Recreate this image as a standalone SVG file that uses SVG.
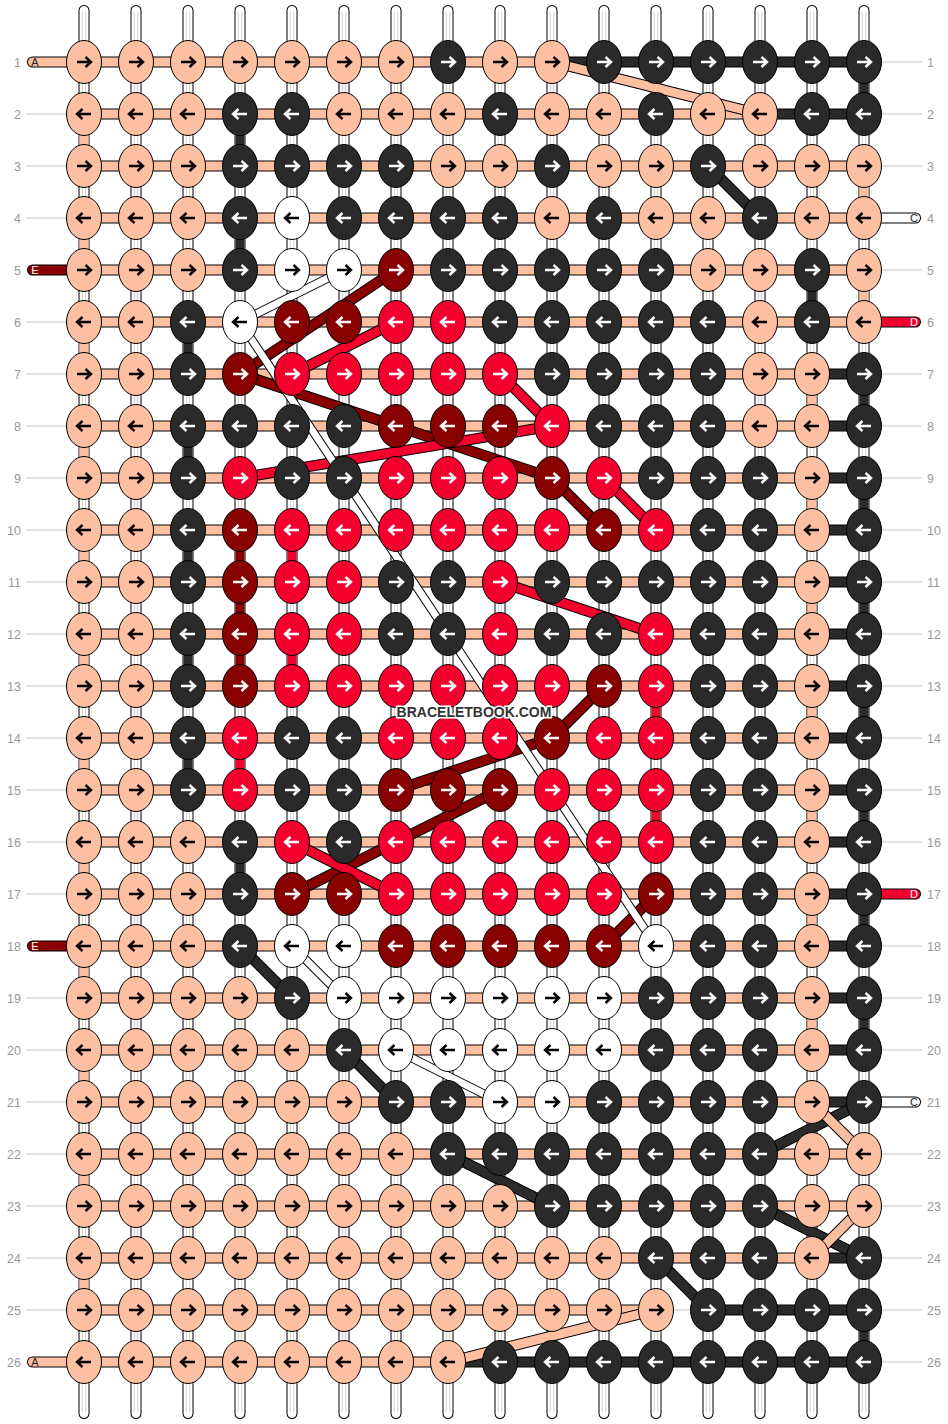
<svg xmlns="http://www.w3.org/2000/svg" xmlns:xlink="http://www.w3.org/1999/xlink" width="948" height="1424" viewBox="0 0 948 1424">
<style>
.gl{stroke:#c4c4c4;stroke-width:1;fill:none}
.so{stroke:#000;stroke-width:11;stroke-linecap:round;fill:none}
.si{stroke:#fff;stroke-width:9;stroke-linecap:round;fill:none}
.sg{stroke:#c8c8c8;stroke-width:0.8;fill:none}
.o{stroke:#000;stroke-width:11;fill:none}
.i{stroke-width:9;fill:none}
.wo{stroke:#000;stroke-width:9;fill:none}
.wi{stroke:#fff;stroke-width:7;fill:none}
.ro{stroke:#000;stroke-width:11;stroke-linecap:round;fill:none}
.ri{stroke-width:9;stroke-linecap:round;fill:none}
.cP{stroke:#FDBFA2}.cK{stroke:#2A2A2A}.cM{stroke:#880000}.cR{stroke:#F5002E}.cW{stroke:#fff}
.num{font-family:"Liberation Sans",Arial,sans-serif;font-size:12.5px;fill:#999}
.st{font-family:"Liberation Sans",Arial,sans-serif;font-size:11px;text-anchor:middle}
.wm{font-family:"Liberation Sans",Arial,sans-serif;font-size:14px;font-weight:bold;fill:#333;stroke:#fff;stroke-width:3;paint-order:stroke;text-anchor:middle}
</style>
<defs>
<path id="ar" d="M-7,0H6.5M1.5,-5L7,0L1.5,5" fill="none" stroke-width="2.4"/>
<path id="al" d="M7,0H-6.5M-1.5,-5L-7,0L-1.5,5" fill="none" stroke-width="2.4"/>
<g id="Pr"><ellipse rx="17.5" ry="21.5" fill="#FDBFA2" stroke="#000"/><use href="#ar" stroke="#000"/></g>
<g id="Pl"><ellipse rx="17.5" ry="21.5" fill="#FDBFA2" stroke="#000"/><use href="#al" stroke="#000"/></g>
<g id="Kr"><ellipse rx="17.5" ry="21.5" fill="#2A2A2A" stroke="#000"/><use href="#ar" stroke="#fff"/></g>
<g id="Kl"><ellipse rx="17.5" ry="21.5" fill="#2A2A2A" stroke="#000"/><use href="#al" stroke="#fff"/></g>
<g id="Wr"><ellipse rx="17.5" ry="21.5" fill="#fff" stroke="#000"/><use href="#ar" stroke="#000"/></g>
<g id="Wl"><ellipse rx="17.5" ry="21.5" fill="#fff" stroke="#000"/><use href="#al" stroke="#000"/></g>
<g id="Mr"><ellipse rx="17.5" ry="21.5" fill="#880000" stroke="#000"/><use href="#ar" stroke="#fff"/></g>
<g id="Ml"><ellipse rx="17.5" ry="21.5" fill="#880000" stroke="#000"/><use href="#al" stroke="#fff"/></g>
<g id="Rr"><ellipse rx="17.5" ry="21.5" fill="#F5002E" stroke="#000"/><use href="#ar" stroke="#fff"/></g>
<g id="Rl"><ellipse rx="17.5" ry="21.5" fill="#F5002E" stroke="#000"/><use href="#al" stroke="#fff"/></g>
</defs>
<rect width="948" height="1424" fill="#fff"/>
<g id="connectors">
<path class="gl" d="M26,62H922M26,114H922M26,166H922M26,218H922M26,270H922M26,322H922M26,374H922M26,426H922M26,478H922M26,530H922M26,582H922M26,634H922M26,686H922M26,738H922M26,790H922M26,842H922M26,894H922M26,946H922M26,998H922M26,1050H922M26,1102H922M26,1154H922M26,1206H922M26,1258H922M26,1310H922M26,1362H922"/>
<path class="so" d="M84,10.5V1413.5M136,10.5V1413.5M188,10.5V1413.5M240,10.5V1413.5M292,10.5V1413.5M344,10.5V1413.5M396,10.5V1413.5M448,10.5V1413.5M500,10.5V1413.5M552,10.5V1413.5M604,10.5V1413.5M656,10.5V1413.5M708,10.5V1413.5M760,10.5V1413.5M812,10.5V1413.5M864,10.5V1413.5"/>
<path class="si" d="M84,10.5V1413.5M136,10.5V1413.5M188,10.5V1413.5M240,10.5V1413.5M292,10.5V1413.5M344,10.5V1413.5M396,10.5V1413.5M448,10.5V1413.5M500,10.5V1413.5M552,10.5V1413.5M604,10.5V1413.5M656,10.5V1413.5M708,10.5V1413.5M760,10.5V1413.5M812,10.5V1413.5M864,10.5V1413.5"/>
<path class="sg" d="M82.3,12V1412M85.7,12V1412M134.3,12V1412M137.7,12V1412M186.3,12V1412M189.7,12V1412M238.3,12V1412M241.7,12V1412M290.3,12V1412M293.7,12V1412M342.3,12V1412M345.7,12V1412M394.3,12V1412M397.7,12V1412M446.3,12V1412M449.7,12V1412M498.3,12V1412M501.7,12V1412M550.3,12V1412M553.7,12V1412M602.3,12V1412M605.7,12V1412M654.3,12V1412M657.7,12V1412M706.3,12V1412M709.7,12V1412M758.3,12V1412M761.7,12V1412M810.3,12V1412M813.7,12V1412M862.3,12V1412M865.7,12V1412"/>
<path class="i cP" d="M84,114V166M84,218V270M84,322V374M84,426V478M84,530V582M84,634V686M84,738V790M84,842V894M84,946V998M84,1050V1102M84,1154V1206M84,1258V1310M812,374V426M812,478V530M812,582V634M812,686V738M812,790V842M812,894V946M812,998V1050M864,166V218M864,270V322"/>
<path class="i cK" d="M188,322V374M188,426V478M188,530V582M188,634V686M188,738V790M240,114V166M240,218V270M240,842V894M812,270V322M864,62V114M864,374V426M864,478V530M864,582V634M864,686V738M864,790V842M864,894V946M864,998V1050M864,1310V1362"/>
<path class="i cM" d="M240,530V686"/>
<path class="i cR" d="M240,738V790M292,530V582M292,634V686M656,686V738M656,790V842"/>
<path class="o" d="M84,62H864M84,114H864M84,166H864M84,218H864M84,270H864M84,322H864M84,374H864M84,426H864M84,478H864M84,530H864M84,582H864M84,634H864M84,686H864M84,738H864M84,790H864M84,842H864M84,894H864M84,946H864M84,998H864M84,1050H864M84,1102H864M84,1154H864M84,1206H864M84,1258H864M84,1310H656M708,1310H864M84,1362H864"/>
<path class="i cP" d="M84,62H552M84,114H760M84,166H864M84,218H864M84,270H864M84,322H864M84,374H812M84,426H812M84,478H812M84,530H812M84,582H812M84,634H812M84,686H812M84,738H812M84,790H812M84,842H812M84,894H812M84,946H812M84,998H812M84,1050H812M84,1102H812M84,1154H864M84,1206H864M84,1258H812M84,1310H656M84,1362H448"/>
<path class="i cK" d="M552,62H864M760,114H864M812,374H864M812,426H864M812,478H864M812,530H864M812,582H864M812,634H864M812,686H864M812,738H864M812,790H864M812,842H864M812,894H864M812,946H864M812,998H864M812,1050H864M812,1102H864M812,1258H864M708,1310H864M448,1362H864"/>
<path class="ro" d="M32.5,62H84M32.5,1362H84M32.5,270H84M32.5,946H84M864,218H915.5M864,1102H915.5M864,322H915.5M864,894H915.5"/>
<path class="ri cP" d="M32.5,62H84M32.5,1362H84"/>
<path class="ri cM" d="M32.5,270H84M32.5,946H84"/>
<path class="ri cW" d="M864,218H915.5M864,1102H915.5"/>
<path class="ri cR" d="M864,322H915.5M864,894H915.5"/>
<path class="o" d="M552,62L760,114"/><path class="i cP" d="M552,62L760,114"/>
<path class="o" d="M708,166L760,218"/><path class="i cK" d="M708,166L760,218"/>
<path class="o" d="M396,270L240,374"/><path class="i cM" d="M396,270L240,374"/>
<path class="o" d="M396,322L292,374"/><path class="i cR" d="M396,322L292,374"/>
<path class="o" d="M240,374L552,478"/><path class="i cM" d="M240,374L552,478"/>
<path class="o" d="M240,478L552,426"/><path class="i cR" d="M240,478L552,426"/>
<path class="o" d="M500,374L552,426"/><path class="i cR" d="M500,374L552,426"/>
<path class="o" d="M552,478L604,530"/><path class="i cM" d="M552,478L604,530"/>
<path class="o" d="M604,478L656,530"/><path class="i cR" d="M604,478L656,530"/>
<path class="o" d="M500,582L656,634"/><path class="i cR" d="M500,582L656,634"/>
<path class="o" d="M604,686L552,738"/><path class="i cM" d="M604,686L552,738"/>
<path class="o" d="M552,738L396,790"/><path class="i cM" d="M552,738L396,790"/>
<path class="o" d="M500,790L292,894"/><path class="i cM" d="M500,790L292,894"/>
<path class="o" d="M292,842L396,894"/><path class="i cR" d="M292,842L396,894"/>
<path class="o" d="M604,946L656,894"/><path class="i cM" d="M604,946L656,894"/>
<path class="o" d="M240,946L292,998"/><path class="i cK" d="M240,946L292,998"/>
<path class="o" d="M344,1050L396,1102"/><path class="i cK" d="M344,1050L396,1102"/>
<path class="o" d="M448,1154L552,1206"/><path class="i cK" d="M448,1154L552,1206"/>
<path class="o" d="M760,1154L864,1102"/><path class="i cK" d="M760,1154L864,1102"/>
<path class="o" d="M812,1102L864,1154"/><path class="i cP" d="M812,1102L864,1154"/>
<path class="o" d="M760,1206L864,1258"/><path class="i cK" d="M760,1206L864,1258"/>
<path class="o" d="M864,1206L812,1258"/><path class="i cP" d="M864,1206L812,1258"/>
<path class="o" d="M656,1258L708,1310"/><path class="i cK" d="M656,1258L708,1310"/>
<path class="o" d="M656,1310L448,1362"/><path class="i cP" d="M656,1310L448,1362"/>
<path class="wo" d="M344,270L240,322"/><path class="wi" d="M344,270L240,322"/>
<path class="wo" d="M240,322L656,946"/><path class="wi" d="M240,322L656,946"/>
<path class="wo" d="M292,946L344,998"/><path class="wi" d="M292,946L344,998"/>
<path class="wo" d="M396,1050L500,1102"/><path class="wi" d="M396,1050L500,1102"/>
</g>
<g id="knots">
<g transform="translate(0,62)"><g id="k1-1"><use href="#Pr" x="84"/></g><g id="k1-2"><use href="#Pr" x="136"/></g><g id="k1-3"><use href="#Pr" x="188"/></g><g id="k1-4"><use href="#Pr" x="240"/></g><g id="k1-5"><use href="#Pr" x="292"/></g><g id="k1-6"><use href="#Pr" x="344"/></g><g id="k1-7"><use href="#Pr" x="396"/></g><g id="k1-8"><use href="#Kr" x="448"/></g><g id="k1-9"><use href="#Pr" x="500"/></g><g id="k1-10"><use href="#Pr" x="552"/></g><g id="k1-11"><use href="#Kr" x="604"/></g><g id="k1-12"><use href="#Kr" x="656"/></g><g id="k1-13"><use href="#Kr" x="708"/></g><g id="k1-14"><use href="#Kr" x="760"/></g><g id="k1-15"><use href="#Kr" x="812"/></g><g id="k1-16"><use href="#Kr" x="864"/></g></g>
<g transform="translate(0,114)"><g id="k2-1"><use href="#Pl" x="84"/></g><g id="k2-2"><use href="#Pl" x="136"/></g><g id="k2-3"><use href="#Pl" x="188"/></g><g id="k2-4"><use href="#Kl" x="240"/></g><g id="k2-5"><use href="#Kl" x="292"/></g><g id="k2-6"><use href="#Pl" x="344"/></g><g id="k2-7"><use href="#Pl" x="396"/></g><g id="k2-8"><use href="#Pl" x="448"/></g><g id="k2-9"><use href="#Kl" x="500"/></g><g id="k2-10"><use href="#Pl" x="552"/></g><g id="k2-11"><use href="#Pl" x="604"/></g><g id="k2-12"><use href="#Kl" x="656"/></g><g id="k2-13"><use href="#Pl" x="708"/></g><g id="k2-14"><use href="#Pl" x="760"/></g><g id="k2-15"><use href="#Kl" x="812"/></g><g id="k2-16"><use href="#Kl" x="864"/></g></g>
<g transform="translate(0,166)"><g id="k3-1"><use href="#Pr" x="84"/></g><g id="k3-2"><use href="#Pr" x="136"/></g><g id="k3-3"><use href="#Pr" x="188"/></g><g id="k3-4"><use href="#Kr" x="240"/></g><g id="k3-5"><use href="#Kr" x="292"/></g><g id="k3-6"><use href="#Kr" x="344"/></g><g id="k3-7"><use href="#Kr" x="396"/></g><g id="k3-8"><use href="#Pr" x="448"/></g><g id="k3-9"><use href="#Pr" x="500"/></g><g id="k3-10"><use href="#Kr" x="552"/></g><g id="k3-11"><use href="#Pr" x="604"/></g><g id="k3-12"><use href="#Pr" x="656"/></g><g id="k3-13"><use href="#Kr" x="708"/></g><g id="k3-14"><use href="#Pr" x="760"/></g><g id="k3-15"><use href="#Pr" x="812"/></g><g id="k3-16"><use href="#Pr" x="864"/></g></g>
<g transform="translate(0,218)"><g id="k4-1"><use href="#Pl" x="84"/></g><g id="k4-2"><use href="#Pl" x="136"/></g><g id="k4-3"><use href="#Pl" x="188"/></g><g id="k4-4"><use href="#Kl" x="240"/></g><g id="k4-5"><use href="#Wl" x="292"/></g><g id="k4-6"><use href="#Kl" x="344"/></g><g id="k4-7"><use href="#Kl" x="396"/></g><g id="k4-8"><use href="#Kl" x="448"/></g><g id="k4-9"><use href="#Kl" x="500"/></g><g id="k4-10"><use href="#Pl" x="552"/></g><g id="k4-11"><use href="#Kl" x="604"/></g><g id="k4-12"><use href="#Pl" x="656"/></g><g id="k4-13"><use href="#Pl" x="708"/></g><g id="k4-14"><use href="#Kl" x="760"/></g><g id="k4-15"><use href="#Pl" x="812"/></g><g id="k4-16"><use href="#Pl" x="864"/></g></g>
<g transform="translate(0,270)"><g id="k5-1"><use href="#Pr" x="84"/></g><g id="k5-2"><use href="#Pr" x="136"/></g><g id="k5-3"><use href="#Pr" x="188"/></g><g id="k5-4"><use href="#Kr" x="240"/></g><g id="k5-5"><use href="#Wr" x="292"/></g><g id="k5-6"><use href="#Wr" x="344"/></g><g id="k5-7"><use href="#Mr" x="396"/></g><g id="k5-8"><use href="#Kr" x="448"/></g><g id="k5-9"><use href="#Kr" x="500"/></g><g id="k5-10"><use href="#Kr" x="552"/></g><g id="k5-11"><use href="#Kr" x="604"/></g><g id="k5-12"><use href="#Kr" x="656"/></g><g id="k5-13"><use href="#Pr" x="708"/></g><g id="k5-14"><use href="#Pr" x="760"/></g><g id="k5-15"><use href="#Kr" x="812"/></g><g id="k5-16"><use href="#Pr" x="864"/></g></g>
<g transform="translate(0,322)"><g id="k6-1"><use href="#Pl" x="84"/></g><g id="k6-2"><use href="#Pl" x="136"/></g><g id="k6-3"><use href="#Kl" x="188"/></g><g id="k6-4"><use href="#Wl" x="240"/></g><g id="k6-5"><use href="#Ml" x="292"/></g><g id="k6-6"><use href="#Ml" x="344"/></g><g id="k6-7"><use href="#Rl" x="396"/></g><g id="k6-8"><use href="#Rl" x="448"/></g><g id="k6-9"><use href="#Kl" x="500"/></g><g id="k6-10"><use href="#Kl" x="552"/></g><g id="k6-11"><use href="#Kl" x="604"/></g><g id="k6-12"><use href="#Kl" x="656"/></g><g id="k6-13"><use href="#Kl" x="708"/></g><g id="k6-14"><use href="#Pl" x="760"/></g><g id="k6-15"><use href="#Kl" x="812"/></g><g id="k6-16"><use href="#Pl" x="864"/></g></g>
<g transform="translate(0,374)"><g id="k7-1"><use href="#Pr" x="84"/></g><g id="k7-2"><use href="#Pr" x="136"/></g><g id="k7-3"><use href="#Kr" x="188"/></g><g id="k7-4"><use href="#Mr" x="240"/></g><g id="k7-5"><use href="#Rr" x="292"/></g><g id="k7-6"><use href="#Rr" x="344"/></g><g id="k7-7"><use href="#Rr" x="396"/></g><g id="k7-8"><use href="#Rr" x="448"/></g><g id="k7-9"><use href="#Rr" x="500"/></g><g id="k7-10"><use href="#Kr" x="552"/></g><g id="k7-11"><use href="#Kr" x="604"/></g><g id="k7-12"><use href="#Kr" x="656"/></g><g id="k7-13"><use href="#Kr" x="708"/></g><g id="k7-14"><use href="#Pr" x="760"/></g><g id="k7-15"><use href="#Pr" x="812"/></g><g id="k7-16"><use href="#Kr" x="864"/></g></g>
<g transform="translate(0,426)"><g id="k8-1"><use href="#Pl" x="84"/></g><g id="k8-2"><use href="#Pl" x="136"/></g><g id="k8-3"><use href="#Kl" x="188"/></g><g id="k8-4"><use href="#Kl" x="240"/></g><g id="k8-5"><use href="#Kl" x="292"/></g><g id="k8-6"><use href="#Kl" x="344"/></g><g id="k8-7"><use href="#Ml" x="396"/></g><g id="k8-8"><use href="#Ml" x="448"/></g><g id="k8-9"><use href="#Ml" x="500"/></g><g id="k8-10"><use href="#Rl" x="552"/></g><g id="k8-11"><use href="#Kl" x="604"/></g><g id="k8-12"><use href="#Kl" x="656"/></g><g id="k8-13"><use href="#Kl" x="708"/></g><g id="k8-14"><use href="#Pl" x="760"/></g><g id="k8-15"><use href="#Pl" x="812"/></g><g id="k8-16"><use href="#Kl" x="864"/></g></g>
<g transform="translate(0,478)"><g id="k9-1"><use href="#Pr" x="84"/></g><g id="k9-2"><use href="#Pr" x="136"/></g><g id="k9-3"><use href="#Kr" x="188"/></g><g id="k9-4"><use href="#Rr" x="240"/></g><g id="k9-5"><use href="#Kr" x="292"/></g><g id="k9-6"><use href="#Kr" x="344"/></g><g id="k9-7"><use href="#Rr" x="396"/></g><g id="k9-8"><use href="#Rr" x="448"/></g><g id="k9-9"><use href="#Rr" x="500"/></g><g id="k9-10"><use href="#Mr" x="552"/></g><g id="k9-11"><use href="#Rr" x="604"/></g><g id="k9-12"><use href="#Kr" x="656"/></g><g id="k9-13"><use href="#Kr" x="708"/></g><g id="k9-14"><use href="#Kr" x="760"/></g><g id="k9-15"><use href="#Pr" x="812"/></g><g id="k9-16"><use href="#Kr" x="864"/></g></g>
<g transform="translate(0,530)"><g id="k10-1"><use href="#Pl" x="84"/></g><g id="k10-2"><use href="#Pl" x="136"/></g><g id="k10-3"><use href="#Kl" x="188"/></g><g id="k10-4"><use href="#Ml" x="240"/></g><g id="k10-5"><use href="#Rl" x="292"/></g><g id="k10-6"><use href="#Rl" x="344"/></g><g id="k10-7"><use href="#Rl" x="396"/></g><g id="k10-8"><use href="#Rl" x="448"/></g><g id="k10-9"><use href="#Rl" x="500"/></g><g id="k10-10"><use href="#Rl" x="552"/></g><g id="k10-11"><use href="#Ml" x="604"/></g><g id="k10-12"><use href="#Rl" x="656"/></g><g id="k10-13"><use href="#Kl" x="708"/></g><g id="k10-14"><use href="#Kl" x="760"/></g><g id="k10-15"><use href="#Pl" x="812"/></g><g id="k10-16"><use href="#Kl" x="864"/></g></g>
<g transform="translate(0,582)"><g id="k11-1"><use href="#Pr" x="84"/></g><g id="k11-2"><use href="#Pr" x="136"/></g><g id="k11-3"><use href="#Kr" x="188"/></g><g id="k11-4"><use href="#Mr" x="240"/></g><g id="k11-5"><use href="#Rr" x="292"/></g><g id="k11-6"><use href="#Rr" x="344"/></g><g id="k11-7"><use href="#Kr" x="396"/></g><g id="k11-8"><use href="#Kr" x="448"/></g><g id="k11-9"><use href="#Rr" x="500"/></g><g id="k11-10"><use href="#Kr" x="552"/></g><g id="k11-11"><use href="#Kr" x="604"/></g><g id="k11-12"><use href="#Kr" x="656"/></g><g id="k11-13"><use href="#Kr" x="708"/></g><g id="k11-14"><use href="#Kr" x="760"/></g><g id="k11-15"><use href="#Pr" x="812"/></g><g id="k11-16"><use href="#Kr" x="864"/></g></g>
<g transform="translate(0,634)"><g id="k12-1"><use href="#Pl" x="84"/></g><g id="k12-2"><use href="#Pl" x="136"/></g><g id="k12-3"><use href="#Kl" x="188"/></g><g id="k12-4"><use href="#Ml" x="240"/></g><g id="k12-5"><use href="#Rl" x="292"/></g><g id="k12-6"><use href="#Rl" x="344"/></g><g id="k12-7"><use href="#Kl" x="396"/></g><g id="k12-8"><use href="#Kl" x="448"/></g><g id="k12-9"><use href="#Rl" x="500"/></g><g id="k12-10"><use href="#Kl" x="552"/></g><g id="k12-11"><use href="#Kl" x="604"/></g><g id="k12-12"><use href="#Rl" x="656"/></g><g id="k12-13"><use href="#Kl" x="708"/></g><g id="k12-14"><use href="#Kl" x="760"/></g><g id="k12-15"><use href="#Pl" x="812"/></g><g id="k12-16"><use href="#Kl" x="864"/></g></g>
<g transform="translate(0,686)"><g id="k13-1"><use href="#Pr" x="84"/></g><g id="k13-2"><use href="#Pr" x="136"/></g><g id="k13-3"><use href="#Kr" x="188"/></g><g id="k13-4"><use href="#Mr" x="240"/></g><g id="k13-5"><use href="#Rr" x="292"/></g><g id="k13-6"><use href="#Rr" x="344"/></g><g id="k13-7"><use href="#Rr" x="396"/></g><g id="k13-8"><use href="#Rr" x="448"/></g><g id="k13-9"><use href="#Rr" x="500"/></g><g id="k13-10"><use href="#Rr" x="552"/></g><g id="k13-11"><use href="#Mr" x="604"/></g><g id="k13-12"><use href="#Rr" x="656"/></g><g id="k13-13"><use href="#Kr" x="708"/></g><g id="k13-14"><use href="#Kr" x="760"/></g><g id="k13-15"><use href="#Pr" x="812"/></g><g id="k13-16"><use href="#Kr" x="864"/></g></g>
<g transform="translate(0,738)"><g id="k14-1"><use href="#Pl" x="84"/></g><g id="k14-2"><use href="#Pl" x="136"/></g><g id="k14-3"><use href="#Kl" x="188"/></g><g id="k14-4"><use href="#Rl" x="240"/></g><g id="k14-5"><use href="#Kl" x="292"/></g><g id="k14-6"><use href="#Kl" x="344"/></g><g id="k14-7"><use href="#Rl" x="396"/></g><g id="k14-8"><use href="#Rl" x="448"/></g><g id="k14-9"><use href="#Rl" x="500"/></g><g id="k14-10"><use href="#Ml" x="552"/></g><g id="k14-11"><use href="#Rl" x="604"/></g><g id="k14-12"><use href="#Rl" x="656"/></g><g id="k14-13"><use href="#Kl" x="708"/></g><g id="k14-14"><use href="#Kl" x="760"/></g><g id="k14-15"><use href="#Pl" x="812"/></g><g id="k14-16"><use href="#Kl" x="864"/></g></g>
<g transform="translate(0,790)"><g id="k15-1"><use href="#Pr" x="84"/></g><g id="k15-2"><use href="#Pr" x="136"/></g><g id="k15-3"><use href="#Kr" x="188"/></g><g id="k15-4"><use href="#Rr" x="240"/></g><g id="k15-5"><use href="#Kr" x="292"/></g><g id="k15-6"><use href="#Kr" x="344"/></g><g id="k15-7"><use href="#Mr" x="396"/></g><g id="k15-8"><use href="#Mr" x="448"/></g><g id="k15-9"><use href="#Mr" x="500"/></g><g id="k15-10"><use href="#Rr" x="552"/></g><g id="k15-11"><use href="#Rr" x="604"/></g><g id="k15-12"><use href="#Rr" x="656"/></g><g id="k15-13"><use href="#Kr" x="708"/></g><g id="k15-14"><use href="#Kr" x="760"/></g><g id="k15-15"><use href="#Pr" x="812"/></g><g id="k15-16"><use href="#Kr" x="864"/></g></g>
<g transform="translate(0,842)"><g id="k16-1"><use href="#Pl" x="84"/></g><g id="k16-2"><use href="#Pl" x="136"/></g><g id="k16-3"><use href="#Pl" x="188"/></g><g id="k16-4"><use href="#Kl" x="240"/></g><g id="k16-5"><use href="#Rl" x="292"/></g><g id="k16-6"><use href="#Kl" x="344"/></g><g id="k16-7"><use href="#Rl" x="396"/></g><g id="k16-8"><use href="#Rl" x="448"/></g><g id="k16-9"><use href="#Rl" x="500"/></g><g id="k16-10"><use href="#Rl" x="552"/></g><g id="k16-11"><use href="#Rl" x="604"/></g><g id="k16-12"><use href="#Rl" x="656"/></g><g id="k16-13"><use href="#Kl" x="708"/></g><g id="k16-14"><use href="#Kl" x="760"/></g><g id="k16-15"><use href="#Pl" x="812"/></g><g id="k16-16"><use href="#Kl" x="864"/></g></g>
<g transform="translate(0,894)"><g id="k17-1"><use href="#Pr" x="84"/></g><g id="k17-2"><use href="#Pr" x="136"/></g><g id="k17-3"><use href="#Pr" x="188"/></g><g id="k17-4"><use href="#Kr" x="240"/></g><g id="k17-5"><use href="#Mr" x="292"/></g><g id="k17-6"><use href="#Mr" x="344"/></g><g id="k17-7"><use href="#Rr" x="396"/></g><g id="k17-8"><use href="#Rr" x="448"/></g><g id="k17-9"><use href="#Rr" x="500"/></g><g id="k17-10"><use href="#Rr" x="552"/></g><g id="k17-11"><use href="#Rr" x="604"/></g><g id="k17-12"><use href="#Mr" x="656"/></g><g id="k17-13"><use href="#Kr" x="708"/></g><g id="k17-14"><use href="#Kr" x="760"/></g><g id="k17-15"><use href="#Pr" x="812"/></g><g id="k17-16"><use href="#Kr" x="864"/></g></g>
<g transform="translate(0,946)"><g id="k18-1"><use href="#Pl" x="84"/></g><g id="k18-2"><use href="#Pl" x="136"/></g><g id="k18-3"><use href="#Pl" x="188"/></g><g id="k18-4"><use href="#Kl" x="240"/></g><g id="k18-5"><use href="#Wl" x="292"/></g><g id="k18-6"><use href="#Wl" x="344"/></g><g id="k18-7"><use href="#Ml" x="396"/></g><g id="k18-8"><use href="#Ml" x="448"/></g><g id="k18-9"><use href="#Ml" x="500"/></g><g id="k18-10"><use href="#Ml" x="552"/></g><g id="k18-11"><use href="#Ml" x="604"/></g><g id="k18-12"><use href="#Wl" x="656"/></g><g id="k18-13"><use href="#Kl" x="708"/></g><g id="k18-14"><use href="#Kl" x="760"/></g><g id="k18-15"><use href="#Pl" x="812"/></g><g id="k18-16"><use href="#Kl" x="864"/></g></g>
<g transform="translate(0,998)"><g id="k19-1"><use href="#Pr" x="84"/></g><g id="k19-2"><use href="#Pr" x="136"/></g><g id="k19-3"><use href="#Pr" x="188"/></g><g id="k19-4"><use href="#Pr" x="240"/></g><g id="k19-5"><use href="#Kr" x="292"/></g><g id="k19-6"><use href="#Wr" x="344"/></g><g id="k19-7"><use href="#Wr" x="396"/></g><g id="k19-8"><use href="#Wr" x="448"/></g><g id="k19-9"><use href="#Wr" x="500"/></g><g id="k19-10"><use href="#Wr" x="552"/></g><g id="k19-11"><use href="#Wr" x="604"/></g><g id="k19-12"><use href="#Kr" x="656"/></g><g id="k19-13"><use href="#Kr" x="708"/></g><g id="k19-14"><use href="#Kr" x="760"/></g><g id="k19-15"><use href="#Pr" x="812"/></g><g id="k19-16"><use href="#Kr" x="864"/></g></g>
<g transform="translate(0,1050)"><g id="k20-1"><use href="#Pl" x="84"/></g><g id="k20-2"><use href="#Pl" x="136"/></g><g id="k20-3"><use href="#Pl" x="188"/></g><g id="k20-4"><use href="#Pl" x="240"/></g><g id="k20-5"><use href="#Pl" x="292"/></g><g id="k20-6"><use href="#Kl" x="344"/></g><g id="k20-7"><use href="#Wl" x="396"/></g><g id="k20-8"><use href="#Wl" x="448"/></g><g id="k20-9"><use href="#Wl" x="500"/></g><g id="k20-10"><use href="#Wl" x="552"/></g><g id="k20-11"><use href="#Wl" x="604"/></g><g id="k20-12"><use href="#Kl" x="656"/></g><g id="k20-13"><use href="#Kl" x="708"/></g><g id="k20-14"><use href="#Kl" x="760"/></g><g id="k20-15"><use href="#Pl" x="812"/></g><g id="k20-16"><use href="#Kl" x="864"/></g></g>
<g transform="translate(0,1102)"><g id="k21-1"><use href="#Pr" x="84"/></g><g id="k21-2"><use href="#Pr" x="136"/></g><g id="k21-3"><use href="#Pr" x="188"/></g><g id="k21-4"><use href="#Pr" x="240"/></g><g id="k21-5"><use href="#Pr" x="292"/></g><g id="k21-6"><use href="#Pr" x="344"/></g><g id="k21-7"><use href="#Kr" x="396"/></g><g id="k21-8"><use href="#Kr" x="448"/></g><g id="k21-9"><use href="#Wr" x="500"/></g><g id="k21-10"><use href="#Wr" x="552"/></g><g id="k21-11"><use href="#Kr" x="604"/></g><g id="k21-12"><use href="#Kr" x="656"/></g><g id="k21-13"><use href="#Kr" x="708"/></g><g id="k21-14"><use href="#Kr" x="760"/></g><g id="k21-15"><use href="#Pr" x="812"/></g><g id="k21-16"><use href="#Kr" x="864"/></g></g>
<g transform="translate(0,1154)"><g id="k22-1"><use href="#Pl" x="84"/></g><g id="k22-2"><use href="#Pl" x="136"/></g><g id="k22-3"><use href="#Pl" x="188"/></g><g id="k22-4"><use href="#Pl" x="240"/></g><g id="k22-5"><use href="#Pl" x="292"/></g><g id="k22-6"><use href="#Pl" x="344"/></g><g id="k22-7"><use href="#Pl" x="396"/></g><g id="k22-8"><use href="#Kl" x="448"/></g><g id="k22-9"><use href="#Kl" x="500"/></g><g id="k22-10"><use href="#Kl" x="552"/></g><g id="k22-11"><use href="#Kl" x="604"/></g><g id="k22-12"><use href="#Kl" x="656"/></g><g id="k22-13"><use href="#Kl" x="708"/></g><g id="k22-14"><use href="#Kl" x="760"/></g><g id="k22-15"><use href="#Pl" x="812"/></g><g id="k22-16"><use href="#Pl" x="864"/></g></g>
<g transform="translate(0,1206)"><g id="k23-1"><use href="#Pr" x="84"/></g><g id="k23-2"><use href="#Pr" x="136"/></g><g id="k23-3"><use href="#Pr" x="188"/></g><g id="k23-4"><use href="#Pr" x="240"/></g><g id="k23-5"><use href="#Pr" x="292"/></g><g id="k23-6"><use href="#Pr" x="344"/></g><g id="k23-7"><use href="#Pr" x="396"/></g><g id="k23-8"><use href="#Pr" x="448"/></g><g id="k23-9"><use href="#Pr" x="500"/></g><g id="k23-10"><use href="#Kr" x="552"/></g><g id="k23-11"><use href="#Kr" x="604"/></g><g id="k23-12"><use href="#Kr" x="656"/></g><g id="k23-13"><use href="#Kr" x="708"/></g><g id="k23-14"><use href="#Kr" x="760"/></g><g id="k23-15"><use href="#Pr" x="812"/></g><g id="k23-16"><use href="#Pr" x="864"/></g></g>
<g transform="translate(0,1258)"><g id="k24-1"><use href="#Pl" x="84"/></g><g id="k24-2"><use href="#Pl" x="136"/></g><g id="k24-3"><use href="#Pl" x="188"/></g><g id="k24-4"><use href="#Pl" x="240"/></g><g id="k24-5"><use href="#Pl" x="292"/></g><g id="k24-6"><use href="#Pl" x="344"/></g><g id="k24-7"><use href="#Pl" x="396"/></g><g id="k24-8"><use href="#Pl" x="448"/></g><g id="k24-9"><use href="#Pl" x="500"/></g><g id="k24-10"><use href="#Pl" x="552"/></g><g id="k24-11"><use href="#Pl" x="604"/></g><g id="k24-12"><use href="#Kl" x="656"/></g><g id="k24-13"><use href="#Kl" x="708"/></g><g id="k24-14"><use href="#Kl" x="760"/></g><g id="k24-15"><use href="#Pl" x="812"/></g><g id="k24-16"><use href="#Kl" x="864"/></g></g>
<g transform="translate(0,1310)"><g id="k25-1"><use href="#Pr" x="84"/></g><g id="k25-2"><use href="#Pr" x="136"/></g><g id="k25-3"><use href="#Pr" x="188"/></g><g id="k25-4"><use href="#Pr" x="240"/></g><g id="k25-5"><use href="#Pr" x="292"/></g><g id="k25-6"><use href="#Pr" x="344"/></g><g id="k25-7"><use href="#Pr" x="396"/></g><g id="k25-8"><use href="#Pr" x="448"/></g><g id="k25-9"><use href="#Pr" x="500"/></g><g id="k25-10"><use href="#Pr" x="552"/></g><g id="k25-11"><use href="#Pr" x="604"/></g><g id="k25-12"><use href="#Pr" x="656"/></g><g id="k25-13"><use href="#Kr" x="708"/></g><g id="k25-14"><use href="#Kr" x="760"/></g><g id="k25-15"><use href="#Kr" x="812"/></g><g id="k25-16"><use href="#Kr" x="864"/></g></g>
<g transform="translate(0,1362)"><g id="k26-1"><use href="#Pl" x="84"/></g><g id="k26-2"><use href="#Pl" x="136"/></g><g id="k26-3"><use href="#Pl" x="188"/></g><g id="k26-4"><use href="#Pl" x="240"/></g><g id="k26-5"><use href="#Pl" x="292"/></g><g id="k26-6"><use href="#Pl" x="344"/></g><g id="k26-7"><use href="#Pl" x="396"/></g><g id="k26-8"><use href="#Pl" x="448"/></g><g id="k26-9"><use href="#Kl" x="500"/></g><g id="k26-10"><use href="#Kl" x="552"/></g><g id="k26-11"><use href="#Kl" x="604"/></g><g id="k26-12"><use href="#Kl" x="656"/></g><g id="k26-13"><use href="#Kl" x="708"/></g><g id="k26-14"><use href="#Kl" x="760"/></g><g id="k26-15"><use href="#Kl" x="812"/></g><g id="k26-16"><use href="#Kl" x="864"/></g></g>
</g>
<g id="labels">
<g class="num" text-anchor="end">
<text x="21" y="66.5">1</text><text x="21" y="118.5">2</text><text x="21" y="170.5">3</text><text x="21" y="222.5">4</text><text x="21" y="274.5">5</text><text x="21" y="326.5">6</text><text x="21" y="378.5">7</text><text x="21" y="430.5">8</text><text x="21" y="482.5">9</text><text x="21" y="534.5">10</text><text x="21" y="586.5">11</text><text x="21" y="638.5">12</text><text x="21" y="690.5">13</text><text x="21" y="742.5">14</text><text x="21" y="794.5">15</text><text x="21" y="846.5">16</text><text x="21" y="898.5">17</text><text x="21" y="950.5">18</text><text x="21" y="1002.5">19</text><text x="21" y="1054.5">20</text><text x="21" y="1106.5">21</text><text x="21" y="1158.5">22</text><text x="21" y="1210.5">23</text><text x="21" y="1262.5">24</text><text x="21" y="1314.5">25</text><text x="21" y="1366.5">26</text>
</g>
<g class="num" text-anchor="start">
<text x="927" y="66.5">1</text><text x="927" y="118.5">2</text><text x="927" y="170.5">3</text><text x="927" y="222.5">4</text><text x="927" y="274.5">5</text><text x="927" y="326.5">6</text><text x="927" y="378.5">7</text><text x="927" y="430.5">8</text><text x="927" y="482.5">9</text><text x="927" y="534.5">10</text><text x="927" y="586.5">11</text><text x="927" y="638.5">12</text><text x="927" y="690.5">13</text><text x="927" y="742.5">14</text><text x="927" y="794.5">15</text><text x="927" y="846.5">16</text><text x="927" y="898.5">17</text><text x="927" y="950.5">18</text><text x="927" y="1002.5">19</text><text x="927" y="1054.5">20</text><text x="927" y="1106.5">21</text><text x="927" y="1158.5">22</text><text x="927" y="1210.5">23</text><text x="927" y="1262.5">24</text><text x="927" y="1314.5">25</text><text x="927" y="1366.5">26</text>
</g>
<text class="st" x="35" y="66" fill="#222">A</text>
<text class="st" x="35" y="1366" fill="#222">A</text>
<text class="st" x="35" y="274" fill="#fff">E</text>
<text class="st" x="35" y="950" fill="#fff">E</text>
<text class="st" x="914" y="222" fill="#222">C</text>
<text class="st" x="914" y="1106" fill="#222">C</text>
<text class="st" x="914" y="326" fill="#fff">D</text>
<text class="st" x="914" y="898" fill="#fff">D</text>
<text class="wm" x="474" y="717">BRACELETBOOK.COM</text>
</g>
</svg>
